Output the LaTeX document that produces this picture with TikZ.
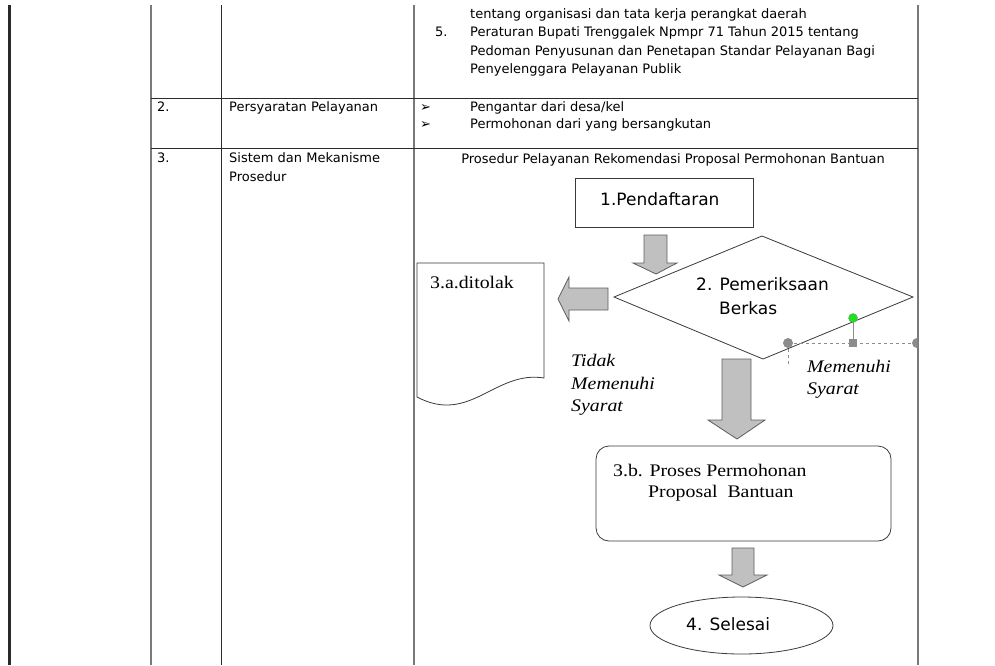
\documentclass[tikz,border=0pt]{standalone}
\usepackage{fontspec}
\setmainfont{DejaVu Sans}
\newfontfamily\tms[FakeStretch=1.12]{Liberation Serif}
\definecolor{tline}{HTML}{7A7A7A}
\definecolor{tdark}{HTML}{2A2A2A}
\definecolor{afill}{HTML}{C0C0C0}
\definecolor{aline}{HTML}{5E5E5E}
\definecolor{fline}{HTML}{3A3A3A}
\definecolor{hgray}{HTML}{8C8C8C}
\definecolor{hgreen}{HTML}{19E619}
\begin{document}
\begin{tikzpicture}[x=1pt,y=-1pt,
  tbl/.style={font=\fontsize{13}{18}\selectfont, inner sep=0, anchor=base west},
  ser/.style={font=\tms\fontsize{17.7}{22}\selectfont, inner sep=0, anchor=base west},
  seri/.style={font=\tms\itshape\fontsize{17.7}{22}\selectfont, inner sep=0, anchor=base west},
  flow/.style={font=\fontsize{17}{22}\selectfont, inner sep=0, anchor=base west},
  blockarrow/.style={fill=afill, draw=aline, line width=0.8pt, line join=miter},
  shapeline/.style={draw=fline, line width=0.8pt}]
\useasboundingbox (0,0) rectangle (995,665);
\fill[white] (0,0) rectangle (995,665);

% table frame
\fill[tdark] (7.5,5) rectangle (10.5,665);
\draw[tline, line width=1.2pt] (151,5) -- (151,665);
\draw[tdark, line width=1pt] (221.5,5) -- (221.5,665);
\draw[tline, line width=1.2pt] (414,5) -- (414,665);
\draw[tline, line width=1.2pt] (918,5) -- (918,665);
\draw[tdark, line width=0.9pt] (151,98) -- (918,98);
\draw[tdark, line width=0.9pt] (151,148) -- (918,148);

% row 1 (continued)
\node[tbl] (r1a) at (470,18) {tentang organisasi dan tata kerja perangkat daerah};
\node[tbl] (r1n) at (435,36.5) {5.};
\node[tbl] (r1b) at (470,36.5) {Peraturan Bupati Trenggalek Npmpr 71 Tahun 2015 tentang};
\node[tbl] (r1c) at (470,55) {Pedoman Penyusunan dan Penetapan Standar Pelayanan Bagi};
\node[tbl] (r1d) at (470,73.5) {Penyelenggara Pelayanan Publik};

% row 2
\node[tbl] (r2n) at (157,111.5) {2.};
\node[tbl] (r2t) at (229,111.5) {Persyaratan Pelayanan};
\node[tbl] (r2b1) at (420,111.5) {➢};
\node[tbl] (r2a) at (470,111.5) {Pengantar dari desa/kel};
\node[tbl] (r2b2) at (420,128.5) {➢};
\node[tbl] (r2c) at (470,128.5) {Permohonan dari yang bersangkutan};

% row 3
\node[tbl] (r3n) at (157,162.5) {3.};
\node[tbl] (r3t) at (229,162.5) {Sistem dan Mekanisme};
\node[tbl] (r3u) at (229,181) {Prosedur};
\node[tbl, anchor=base] (title) at (673,163) {Prosedur Pelayanan Rekomendasi Proposal Permohonan Bantuan};

% 1. Pendaftaran
\draw[shapeline] (575,178) rectangle (753,227);
\node[flow] (daftar) at (600,205) {1.Pendaftaran};

% arrow 1
\draw[blockarrow] (644,235) -- (667,235) -- (667,263) -- (677,263) -- (656,274) -- (633,263) -- (644,263) -- cycle;

% diamond
\coordinate (dt) at (762,236);
\coordinate (dl) at (614,297);
\coordinate (dr) at (913,297);
\coordinate (db) at (763,359);
\draw[shapeline] (dt) -- (dr) -- (db) -- (dl) -- cycle;
\node[flow] (periksa) at (696,290) {2. Pemeriksaan};
\node[flow] (berkas) at (719,314) {Berkas};

% selection handles
\draw[hgray, dashed, line width=0.6pt] (788,343) -- (917,343);
\draw[hgray, dashed, line width=0.6pt] (788,343) -- (788,364);
\draw[hgray, line width=0.8pt] (853,318) -- (853,343);
\fill[hgray] (788,343) circle (5);
\begin{scope}
\clip (900,330) rectangle (917.5,360);
\fill[hgray] (917,343) circle (5);
\end{scope}
\fill[hgray] (849,339) rectangle (857,347);
\filldraw[fill=hgreen, draw=hgray, line width=0.4pt] (853,318) circle (4.5);

% left arrow
\draw[blockarrow] (608,288) -- (569,288) -- (569,277) -- (558,299) -- (569,321) -- (569,310) -- (608,310) -- cycle;

% 3.a document
\draw[shapeline] (417,263) -- (544,263) -- (544,378) .. controls (495,370) and (470,425) .. (417,397) -- cycle;
\node[ser] (tolak) at (430,288) {3.a.ditolak};

% labels
\node[seri] (tdk1) at (571,366) {Tidak};
\node[seri] (tdk2) at (571,389) {Memenuhi};
\node[seri] (tdk3) at (571,411) {Syarat};
\node[seri] (mem1) at (807,372) {Memenuhi};
\node[seri] (mem2) at (807,394) {Syarat};

% arrow 2
\draw[blockarrow] (722,359) -- (751,359) -- (751,420) -- (765,420) -- (737,439) -- (708,420) -- (722,420) -- cycle;

% 3.b box
\draw[shapeline, rounded corners=13pt] (596,446) rectangle (891,541);
\node[ser] (proses1) at (613,476) {3.b. Proses Permohonan};
\node[ser] (proses2) at (648,497) {Proposal\ \ Bantuan};

% arrow 3
\draw[blockarrow] (732,548) -- (754,548) -- (754,575) -- (767,575) -- (743,587) -- (719,575) -- (732,575) -- cycle;

% 4. Selesai
\draw[shapeline] (741.5,625.5) ellipse [x radius=91.5, y radius=28.5];
\node[flow] (selesai) at (686,630) {4. Selesai};
\end{tikzpicture}
\end{document}
